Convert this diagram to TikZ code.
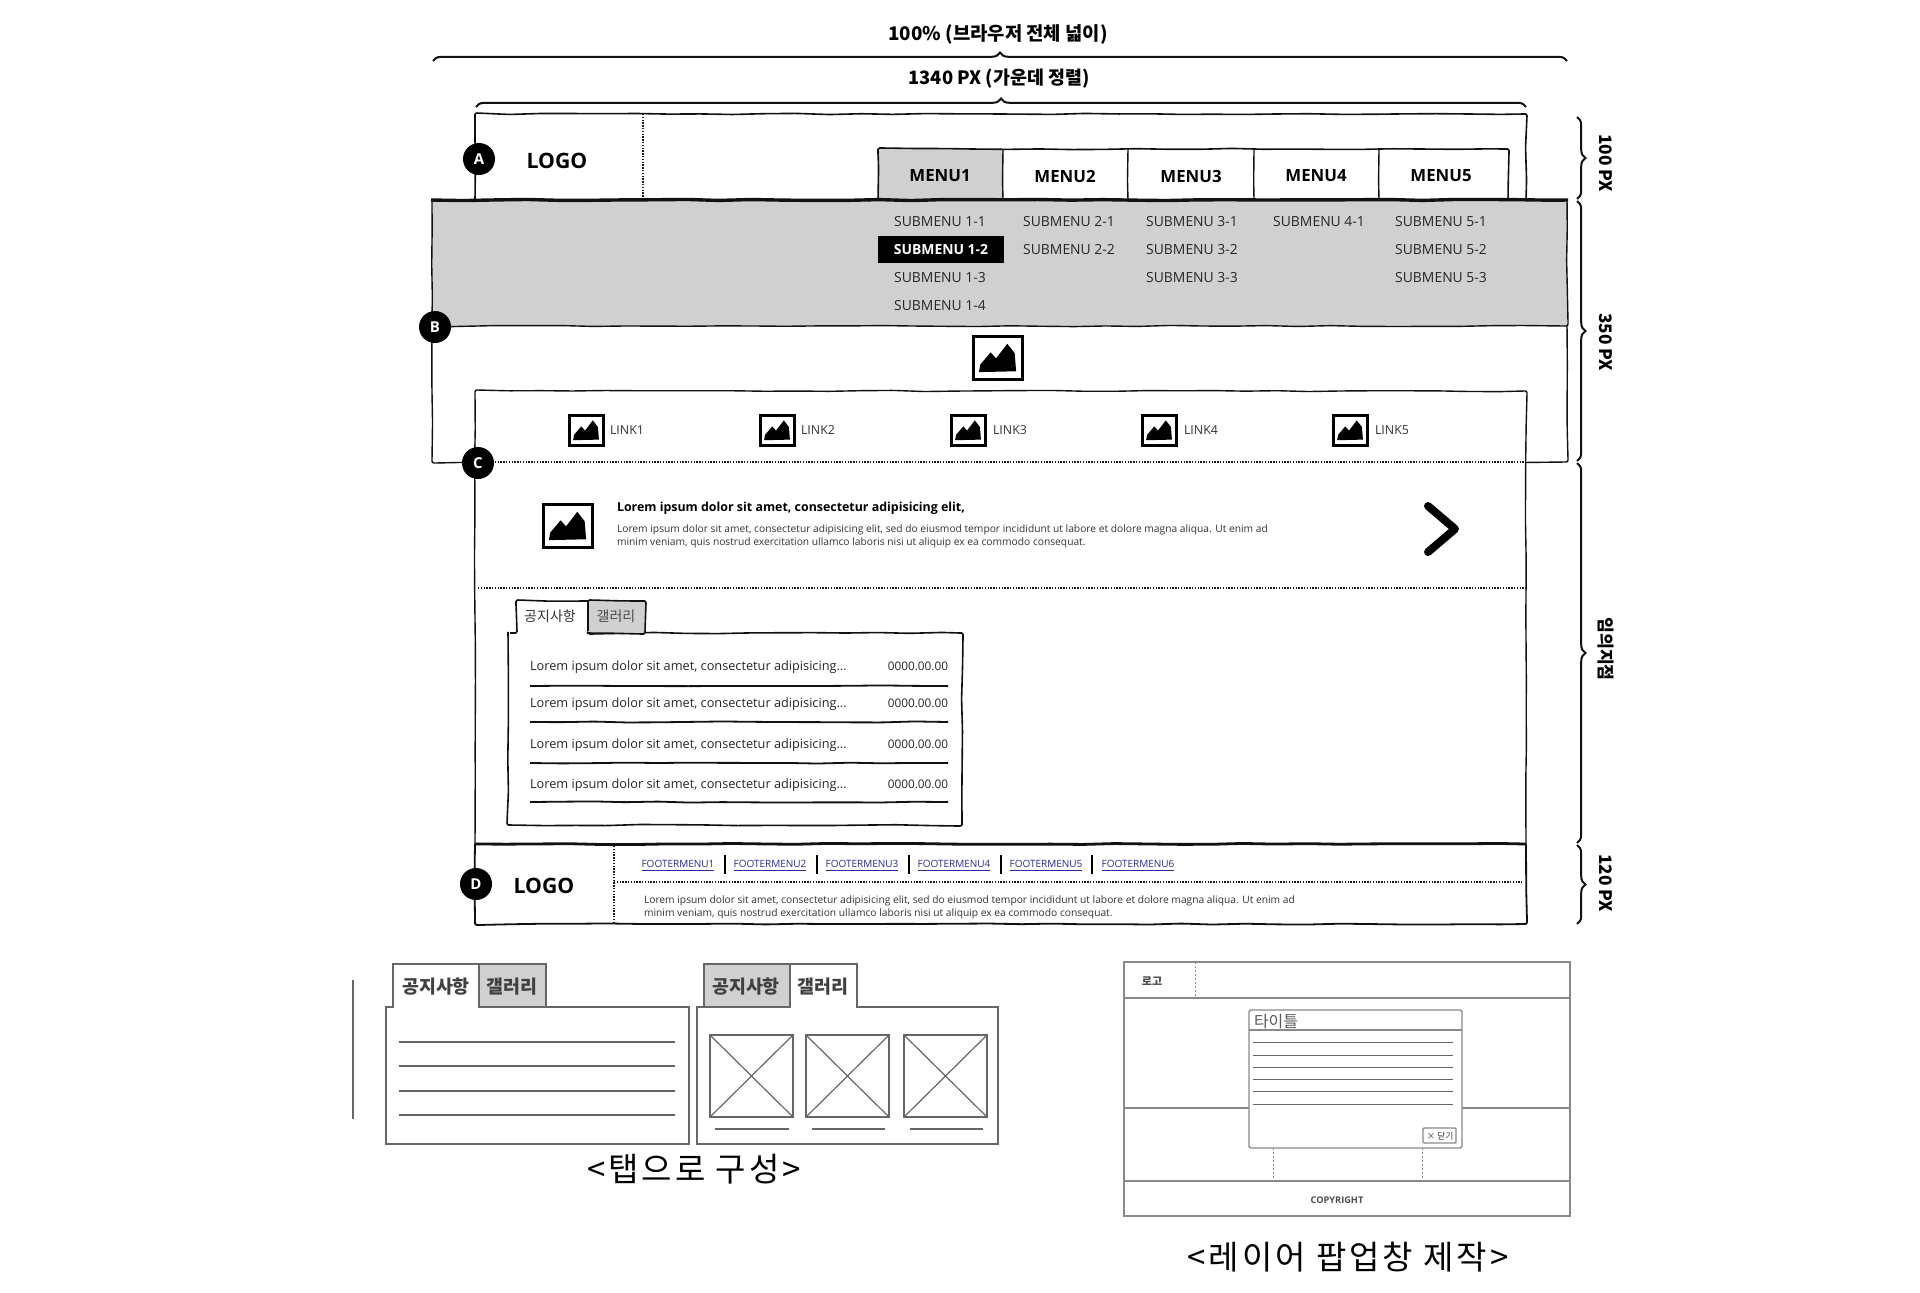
\documentclass[tikz,border=0pt]{standalone}
\usepackage{fontspec}
\usetikzlibrary{decorations.pathmorphing,decorations.pathreplacing}
\setmainfont{Open Sans}
\newfontfamily\krf{Noto Sans CJK KR}
\newfontfamily\krwide[LetterSpace=9]{Noto Sans CJK KR}
\definecolor{panelgray}{HTML}{D0D0D0}
\definecolor{sketchline}{HTML}{111111}
\definecolor{softline}{HTML}{666666}
\definecolor{poplines}{HTML}{8A8A8A}
\definecolor{footlink}{HTML}{2B2B9B}
\newcommand{\fs}[1]{\fontsize{#1}{#1}\selectfont}
\tikzset{
  x=0.5pt,y=-0.5pt,
  sk/.style={decorate,decoration={random steps,segment length=16pt,amplitude=.3pt},rounded corners=1pt,draw=sketchline,line width=.6pt},
  skthick/.style={sk,line width=1.1pt},
  skheavy/.style={sk,line width=1.7pt},
  hdot/.style={draw=black!90,line width=.55pt,dash pattern=on .7pt off .7pt},
  brc/.style={decorate,decoration={brace,amplitude=4.2pt,aspect=.5},draw=sketchline,line width=1pt},
  txt/.style={inner sep=0pt,outer sep=0pt,text=black},
  badge/.style={circle,fill=black,text=white,inner sep=0pt,minimum size=16pt,font=\bfseries\fs{7.5}},
  menutxt/.style={txt,font=\bfseries\fs{8.4}},
  subtxt/.style={txt,font=\fs{6.95},text=black!85},
  linktxt/.style={txt,font=\fs{6.2},text=black!80,anchor=west},
  listtxt/.style={txt,font=\fs{6.37},text=black!85,anchor=west},
  datetxt/.style={txt,font=\fs{5.9},text=black!85,anchor=east},
  foottxt/.style={txt,font=\fs{5},text=footlink},
  sidetxt/.style={txt,rotate=-90,font=\krf\bfseries\fs{8.6}},
  softbox/.style={draw=softline,line width=.85pt},
  popbox/.style={draw=poplines,line width=.7pt},
  popdash/.style={draw=poplines,line width=.5pt,dash pattern=on 1.2pt off .8pt},
  pline/.style={draw=softline,line width=.45pt},
  imgicon/.pic={
    \fill[black] (12,84) -- (15,66) -- (36,38) -- (47,52) -- (70,18) -- (85,40) -- (88,82) -- cycle;
    \draw[black,line width=1.5pt] (0,0) rectangle (100,100);
  },
}
\begin{document}
\begin{tikzpicture}
\pgfmathsetseed{42}
\useasboundingbox (0,0) rectangle (1920,1292);
\fill[white] (0,0) rectangle (1920,1292);
% top dimension labels
\node[txt,font=\krf\bfseries\fs{9.4}] (toplabel) at (998,34) {100\% (브라우저 전체 넓이)};
\draw[brc] (433,61) -- (1567,61);
\node[txt,font=\krf\bfseries\fs{9.2}] (midlabel) at (999,79) {1340 PX (가운데 정렬)};
\draw[brc] (476,107) -- (1526,107);
% A header
\draw[sk,line width=.8pt] (475,200) -- (475,114) -- (1526,114) -- (1526,200);
\draw[hdot] (643,114) -- (643,200);
\node[txt,font=\bfseries\fs{10.6}] (logoA) at (557,161) {LOGO};
\fill[panelgray] (878,149) rectangle (1003,200);
\draw[sk,line width=.8pt] (878,200) -- (878,149) -- (1508,149) -- (1508,200);
\foreach \xx in {1003,1128,1254,1379}{\draw[sk,line width=.7pt] (\xx,149) -- (\xx,200);}
\node[menutxt] (m1) at (940,176) {MENU1};
\node[menutxt] (m2) at (1065,176) {MENU2};
\node[menutxt] (m3) at (1191,176) {MENU3};
\node[menutxt] (m4) at (1316,176) {MENU4};
\node[menutxt] (m5) at (1441,176) {MENU5};
% B
\draw[sk,line width=.7pt] (432,326) -- (432,462) -- (1567,462) -- (1567,326);
\fill[panelgray] (432,200) rectangle (1567,326);
\draw[sk,line width=.7pt] (432,200) -- (432,326) -- (1567,326) -- (1567,200);
\draw[skheavy] (431,200) -- (1568,200);
\fill[black] (878,236) rectangle (1004,263);
\node[subtxt] (s11) at (940,222) {SUBMENU 1-1};
\node[txt,font=\bfseries\fs{6.95},text=white] (s12) at (941,250) {SUBMENU 1-2};
\node[subtxt] (s13) at (940,278) {SUBMENU 1-3};
\node[subtxt] (s14) at (940,306) {SUBMENU 1-4};
\node[subtxt] (s21) at (1069,222) {SUBMENU 2-1};
\node[subtxt] (s22) at (1069,250) {SUBMENU 2-2};
\node[subtxt] (s31) at (1192,222) {SUBMENU 3-1};
\node[subtxt] (s32) at (1192,250) {SUBMENU 3-2};
\node[subtxt] (s33) at (1192,278) {SUBMENU 3-3};
\node[subtxt] (s41) at (1319,222) {SUBMENU 4-1};
\node[subtxt] (s51) at (1441,222) {SUBMENU 5-1};
\node[subtxt] (s52) at (1441,250) {SUBMENU 5-2};
\node[subtxt] (s53) at (1441,278) {SUBMENU 5-3};
\pic[xscale=.49,yscale=.43] at (973,336) {imgicon};
% C
\fill[white] (475,391) rectangle (1526,844);
\draw[sk,line width=.7pt] (475,844) -- (475,391) -- (1526,391) -- (1526,844);
\draw[hdot] (478,462) -- (1526,462);
\draw[hdot] (478,588) -- (1526,588);
\foreach \xx/\lx/\i in {569/610/1,760/801/2,951/993/3,1142/1184/4,1333/1375/5}{
  \pic[xscale=.34,yscale=.30] at (\xx,415) {imgicon};
  \node[linktxt] (link\i) at (\lx,430) {LINK\i};
}
\pic[xscale=.49,yscale=.43] at (543,504) {imgicon};
\node[txt,font=\bfseries\fs{6.2},anchor=west] (ctitle) at (617,508) {Lorem ipsum dolor sit amet, consectetur adipisicing elit,};
\node[txt,font=\fs{5.12},text=black!80,anchor=north west,align=left] (cbody) at (617,525) {Lorem ipsum dolor sit amet, consectetur adipisicing elit, sed do eiusmod tempor incididunt ut labore et dolore magna aliqua. Ut enim ad\\[1.1pt]minim veniam, quis nostrud exercitation ullamco laboris nisi ut aliquip ex ea commodo consequat.};
\draw[line width=4pt,line cap=round,line join=round] (1428,506) -- (1455,529) -- (1428,552);
% tab panel
\draw[sk,line width=.8pt,fill=white] (508,633) -- (516,633) -- (516,601) -- (588,601) -- (588,633) -- (962,633) -- (962,825) -- (508,825) -- cycle;
\draw[sk,line width=.8pt,fill=panelgray] (588,633) -- (588,601) -- (645,601) -- (645,633) -- cycle;
\node[txt,font=\krf\fs{7},text=black!80] (tab1) at (550,616) {공지사항};
\node[txt,font=\krf\fs{7},text=black!70] (tab2) at (616,616) {갤러리};
\foreach \ty/\ly/\i in {666/686/1,703/722/2,744/763/3,784/802/4}{
  \node[listtxt] (li\i) at (530,\ty+1) {Lorem ipsum dolor sit amet, consectetur adipisicing...};
  \node[datetxt] (dt\i) at (948,\ty) {0000.00.00};
  \draw[sk,line width=.9pt] (530,\ly) -- (948,\ly);
}
% footer
\draw[sk,line width=.9pt] (475,844) -- (475,924) -- (1526,924) -- (1526,844);
\draw[skheavy,line width=1.4pt] (475,844) -- (1526,844);
\draw[hdot] (614,846) -- (614,924);
\draw[hdot] (614,882) -- (1522,882);
\node[txt,font=\bfseries\fs{10.6}] (logoD) at (544,886) {LOGO};
\foreach \fx/\i in {678/1,770/2,862/3,954/4,1046/5,1138/6}{
  \node[foottxt] (fm\i) at (\fx,866) {\underline{FOOTERMENU\i}};
}
\foreach \sx in {725,817,909,1001,1092}{\draw[line width=.7pt,black] (\sx,855) -- (\sx,874);}
\node[txt,font=\fs{5.12},text=black!80,anchor=north west,align=left] (fbody) at (644,896) {Lorem ipsum dolor sit amet, consectetur adipisicing elit, sed do eiusmod tempor incididunt ut labore et dolore magna aliqua. Ut enim ad\\[1.1pt]minim veniam, quis nostrud exercitation ullamco laboris nisi ut aliquip ex ea commodo consequat.};
% badges
\node[badge] (badgeA) at (479,159) {A};
\node[badge] (badgeB) at (435,327) {B};
\node[badge] (badgeC) at (478,463) {C};
\node[badge] (badgeD) at (476,884) {D};
% right braces
\draw[brc] (1577,117) -- (1577,199);
\draw[brc] (1577,201) -- (1577,461);
\draw[brc] (1577,463) -- (1577,843);
\draw[brc] (1577,845) -- (1577,924);
\node[sidetxt] (h1) at (1606,163) {100 PX};
\node[sidetxt] (h2) at (1606,342) {350 PX};
\node[sidetxt] (h3) at (1606,649) {임의지점};
\node[sidetxt] (h4) at (1606,883) {120 PX};
% lower left
\draw[softbox] (353,980) -- (353,1119);
\draw[softbox,fill=white] (386,1007) -- (393,1007) -- (393,964) -- (479,964) -- (479,1007) -- (689,1007) -- (689,1144) -- (386,1144) -- cycle;
\draw[softbox,fill=panelgray] (479,1007) -- (479,964) -- (546,964) -- (546,1007) -- cycle;
\node[txt,font=\krf\bfseries\fs{9.2},text=black!75] (lt1) at (436,987) {공지사항};
\node[txt,font=\krf\bfseries\fs{9.2},text=black!75] (lt2) at (512,987) {갤러리};
\foreach \ly in {1042,1066,1091,1115}{\draw[softbox] (399,\ly) -- (675,\ly);}
\draw[softbox,fill=white] (697,1007) -- (790,1007) -- (790,964) -- (857,964) -- (857,1007) -- (998,1007) -- (998,1144) -- (697,1144) -- cycle;
\draw[softbox,fill=panelgray] (704,1007) -- (704,964) -- (790,964) -- (790,1007) -- cycle;
\node[txt,font=\krf\bfseries\fs{9.2},text=black!75] (rt1) at (746,987) {공지사항};
\node[txt,font=\krf\bfseries\fs{9.2},text=black!75] (rt2) at (823,987) {갤러리};
\foreach \bx/\ax/\cx in {710/715/789,806/812/885,904/910/983}{
  \draw[softbox,line width=1.05pt] (\bx,1035) rectangle ++(83,82);
  \draw[softbox,line width=.6pt] (\bx,1035) -- ++(83,82);
  \draw[softbox,line width=.6pt] (\bx,1117) -- ++(83,-82);
  \draw[softbox,line width=.8pt] (\ax,1129) -- (\cx,1129);
}
\node[txt,font=\krwide\fs{16.5}] (capL) at (694,1169) {<탭으로 구성>};
% popup
\draw[popbox] (1124,962) rectangle (1570,1216);
\draw[popbox] (1124,998) -- (1570,998);
\draw[popdash] (1195,962) -- (1195,998);
\draw[popbox] (1124,1108) -- (1570,1108);
\draw[popbox] (1124,1181) -- (1570,1181);
\draw[popdash] (1273,1148) -- (1273,1181);
\draw[popdash] (1422,1148) -- (1422,1181);
\draw[popbox,fill=white,rounded corners=.8pt] (1249,1010) rectangle (1462,1148);
\draw[popbox] (1249,1030) -- (1462,1030);
\foreach \ly in {1042,1055,1067,1079,1091,1104}{\draw[pline] (1253,\ly) -- (1453,\ly);}
\draw[popbox,rounded corners=.5pt] (1423,1128) rectangle (1456,1143);
\node[txt,font=\krf\fs{4.4},text=black!75] (closebtn) at (1440,1136) {× 닫기};
\node[txt,font=\krf\fs{8},text=black!65,anchor=west] (poptitle) at (1254,1021) {타이틀};
\node[txt,font=\krf\bfseries\fs{5.5},text=black!70] (poplogo) at (1152,981) {로고};
\node[txt,font=\bfseries\fs{4.6},text=black!70] (copy) at (1337,1200) {COPYRIGHT};
\node[txt,font=\krwide\fs{16.5}] (capR) at (1348,1257) {<레이어 팝업창 제작>};
\end{tikzpicture}
\end{document}
